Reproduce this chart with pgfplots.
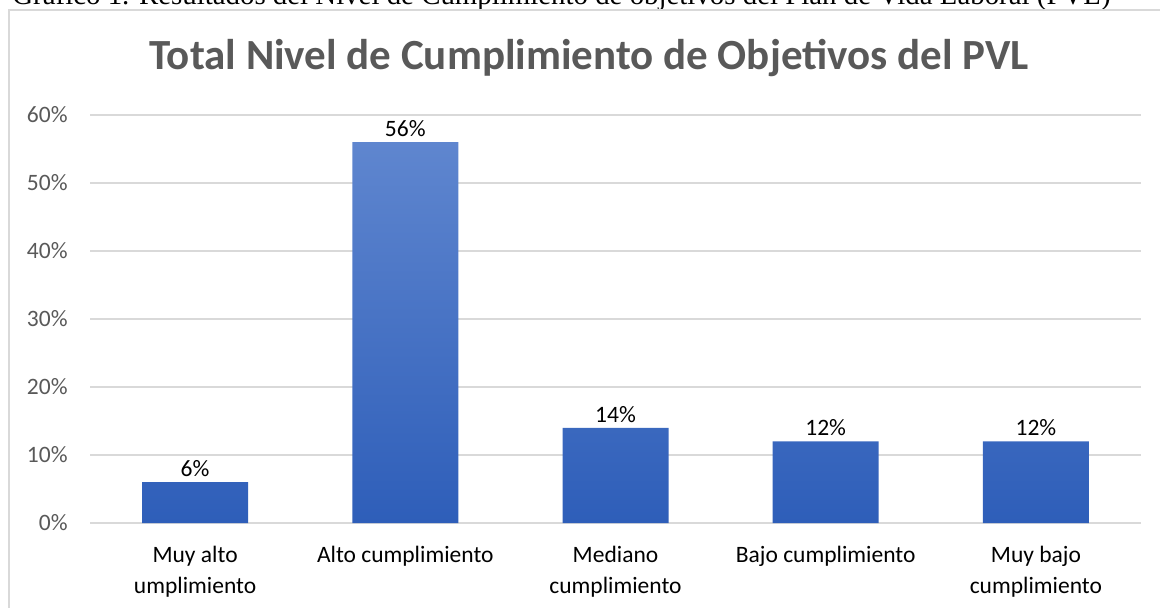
\documentclass[border=0pt]{standalone}
\usepackage{pgfplots}
\pgfplotsset{compat=1.18}
\usepackage{fontspec}
\setmainfont{Carlito}
\newfontfamily\capfont{Liberation Serif}
\definecolor{gridgray}{HTML}{D9D9D9}
\definecolor{titlegray}{HTML}{595959}
\definecolor{bartop}{HTML}{5F86CF}
\definecolor{barbot}{HTML}{2E5EB9}
\begin{document}
\begin{tikzpicture}[x=0.5pt,y=0.5pt]
\useasboundingbox (0,0) rectangle (1160,607);
\clip (0,0) rectangle (1160,607);
\node[anchor=base west, inner sep=0pt] at (12,603) {\resizebox{549pt}{!}{\capfont Gráfico 1. Resultados del Nivel de Cumplimiento de objetivos del Plan de Vida Laboral (PVL)}};
\draw[gridgray, line width=0.75pt] (9,-20) rectangle (1175,597);
\node[anchor=base, inner sep=0pt, text=titlegray, font=\bfseries\fontsize{21.5}{26}\selectfont] at (589,537.5) {Total Nivel de Cumplimiento de Objetivos del PVL};
\begin{axis}[
  at={(45pt,42pt)}, anchor=south west,
  scale only axis, width=525.5pt, height=204pt,
  xmin=-0.5, xmax=4.5, ymin=0, ymax=60,
  ybar, bar width=53pt,
  ytick={0,10,...,60},
  yticklabel={\pgfmathprintnumber{\tick}\%},
  xtick={0,1,2,3,4},
  xticklabels={{Muy alto\\umplimiento},{Alto cumplimiento},{Mediano\\cumplimiento},{Bajo cumplimiento},{Muy bajo\\cumplimiento}},
  /pgf/number format/assume math mode=true,
  major tick length=0pt,
  axis line style={draw=none},
  ymajorgrids,
  grid style={gridgray, line width=0.75pt},
  xticklabel style={align=center, anchor=north, inner sep=0pt, yshift=-11.5pt, text=black, font=\fontsize{11.75}{15.5}\selectfont},
  yticklabel style={anchor=east, inner sep=0pt, xshift=-11pt, text=titlegray, font=\fontsize{11.75}{14}\selectfont},
  nodes near coords={\pgfmathprintnumber{\pgfplotspointmeta}\%},
  every node near coord/.append style={anchor=south, inner sep=0pt, yshift=2.5pt, text=black, font=\fontsize{11.75}{14}\selectfont},
]
\addplot[draw=none, top color=bartop, bottom color=barbot] coordinates {(0,6) (1,56) (2,14) (3,12) (4,12)};
\end{axis}
\end{tikzpicture}
\end{document}
